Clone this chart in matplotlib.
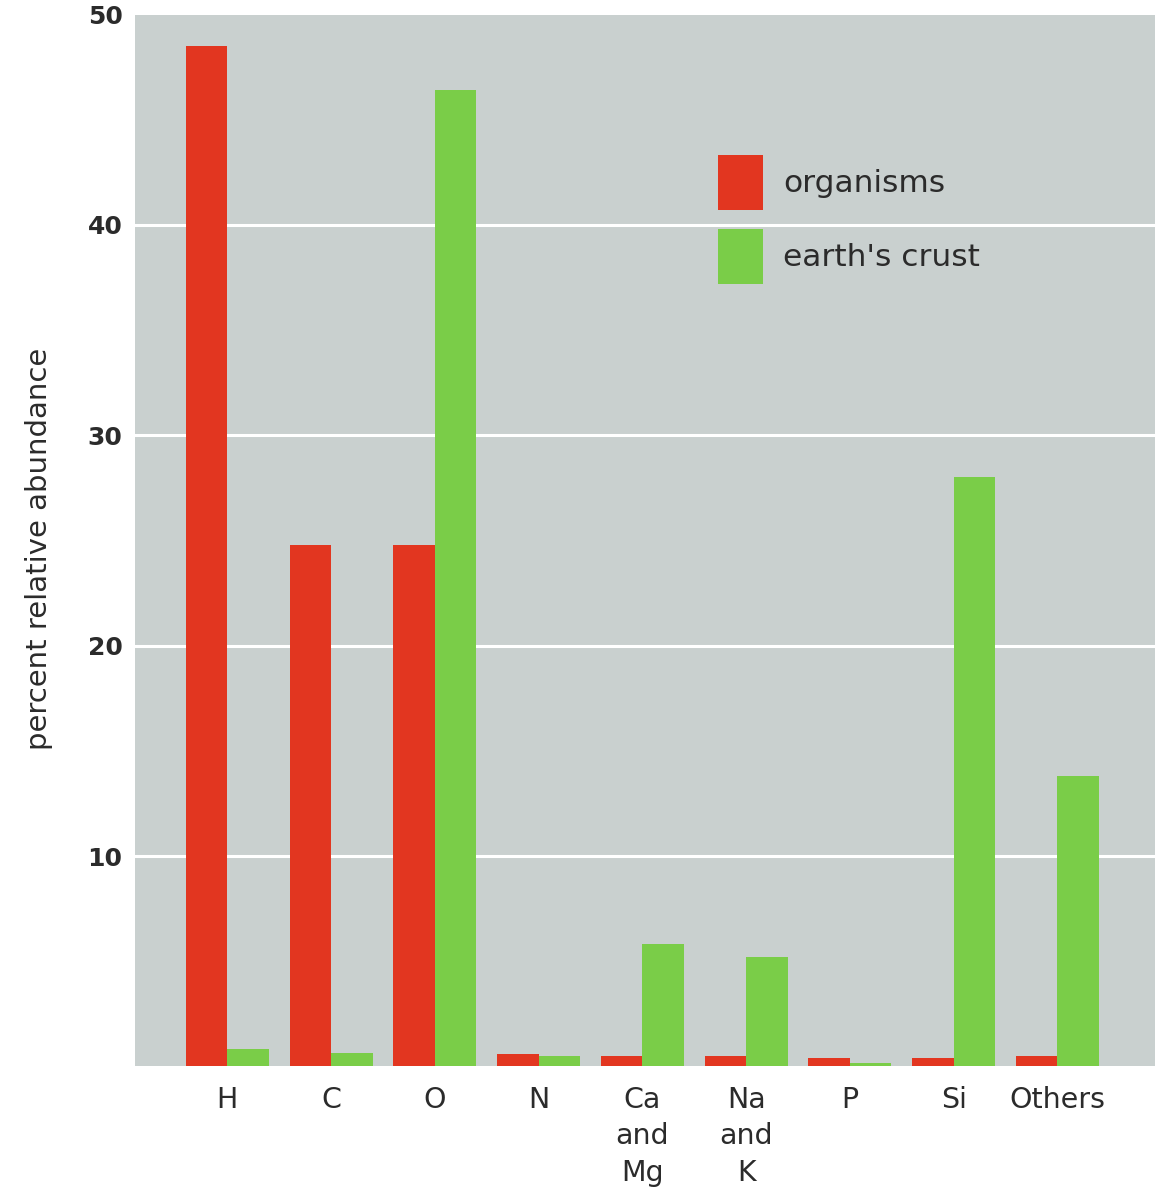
import numpy as np
import matplotlib
matplotlib.use("Agg")
import matplotlib.pyplot as plt

# --- data (percent relative abundance) ---
elements = ['H', 'C', 'O', 'N', 'Ca\nand\nMg', 'Na\nand\nK', 'P', 'Si', 'Others']
organisms = [48.5, 24.8, 24.8, 0.6, 0.5, 0.5, 0.4, 0.4, 0.5]
earths_crust = [0.85, 0.65, 46.4, 0.5, 5.8, 5.2, 0.15, 28.0, 13.8]

red = '#e23620'
green = '#7acd48'
bg = '#c9d0cf'
text_col = '#2b2b2b'

plt.rcParams['font.family'] = ['DejaVu Sans']

fig = plt.figure(figsize=(11.55, 11.9), dpi=100)
ax = fig.add_axes([135 / 1155, 0.1038, 1 - 135 / 1155, 0.884])
ax.set_facecolor(bg)

x = np.arange(len(elements))
w = 0.4
ax.bar(x - w / 2, organisms, width=w, color=red, label='organisms', zorder=3)
ax.bar(x + w / 2, earths_crust, width=w, color=green, label="earth's crust", zorder=3)

ax.set_xlim(-0.89, 8.94)
ax.set_ylim(0, 50)

# white horizontal grid
for yv in [10, 20, 30, 40]:
    ax.axhline(yv, color='white', lw=2.2, zorder=1)

ax.set_yticks([10, 20, 30, 40, 50])
ax.set_yticklabels(['10', '20', '30', '40', '50'], fontsize=18, color=text_col,
                   fontweight='bold')
ax.set_xticks(x)
ax.set_xticklabels(elements, fontsize=20.5, color=text_col, linespacing=1.38)
ax.tick_params(axis='both', length=0)
ax.tick_params(axis='y', pad=9)
ax.tick_params(axis='x', pad=14)

for s in ax.spines.values():
    s.set_visible(False)

fig.text(39 / 1155, 1 - 549 / 1190, 'percent relative abundance', rotation=90,
         ha='center', va='center', fontsize=21, color=text_col)

leg = ax.legend(loc='upper left', bbox_to_anchor=((718 - 135) / 1020, (1066.5 - 155) / 1052),
                frameon=False, fontsize=22.5, handlelength=1.44, handleheight=2.33,
                labelspacing=0.6, handletextpad=0.64, borderpad=0, borderaxespad=0)
for t in leg.get_texts():
    t.set_color(text_col)

plt.savefig('out.png', dpi=100)
plt.close()
